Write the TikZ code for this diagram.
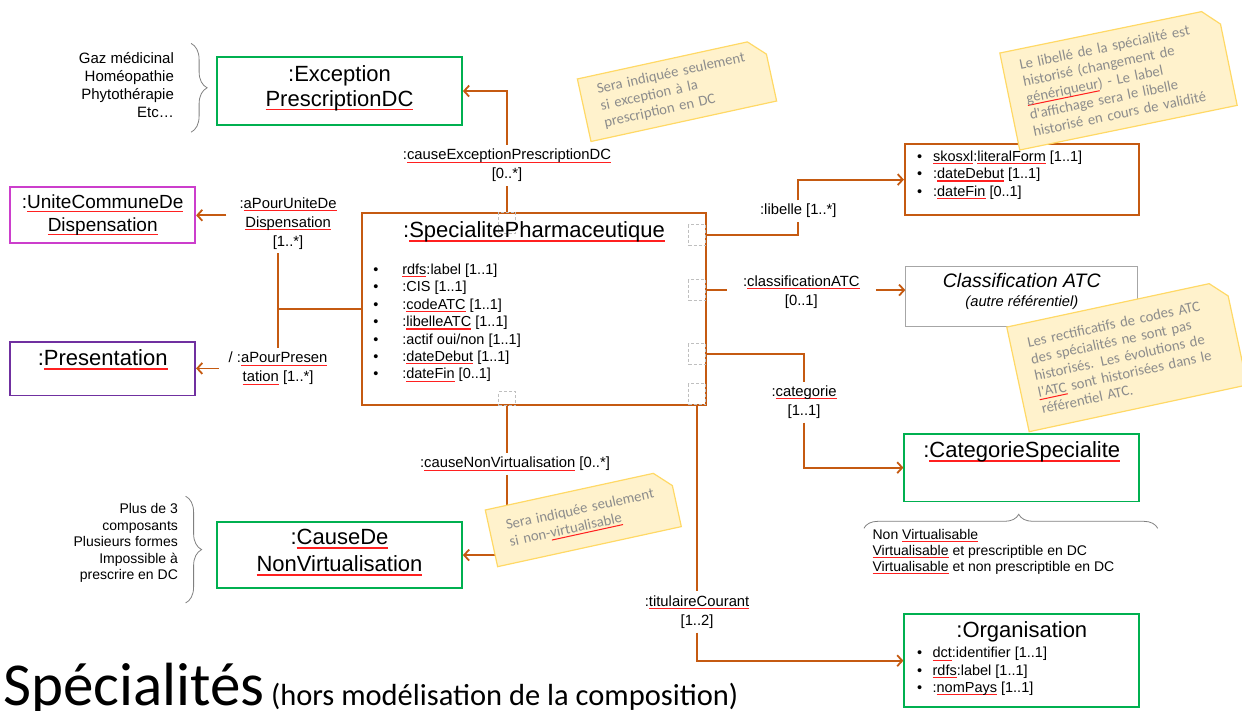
\documentclass[tikz,border=0pt]{standalone}
\usepackage{fontspec}
\setmainfont{Liberation Sans}
\newfontfamily\notefont{Carlito}
\usetikzlibrary{positioning,shapes.misc,decorations.pathreplacing,arrows.meta}

\definecolor{linkorange}{HTML}{C55A11}
\definecolor{classgreen}{HTML}{00B050}
\definecolor{unitemagenta}{HTML}{CC3ECC}
\definecolor{prespurple}{HTML}{7030A0}
\definecolor{classgray}{HTML}{A6A6A6}
\definecolor{portgray}{HTML}{BFBFBF}
\definecolor{bracegray}{HTML}{808080}
\definecolor{notefill}{HTML}{FFF2CC}
\definecolor{notedraw}{HTML}{FFD966}
\definecolor{notetext}{HTML}{8C8C8C}
\definecolor{squigred}{HTML}{FF2020}

% red underline as in the source slide
\newsavebox\sqbox
\newcommand\sq[1]{\leavevmode\sbox\sqbox{#1}\rlap{\textcolor{squigred}{\rule[-0.2em]{\wd\sqbox}{0.07em}}}\usebox\sqbox}
\newcommand\bul[1]{\makebox[#1][l]{\textbullet}}

\tikzstyle{classbox}=[rectangle, draw, line width=1.8pt, inner sep=0pt]
\tikzstyle{classname}=[inner sep=0pt, align=center, font=\fontsize{22}{26}\selectfont]
\tikzstyle{attrlist}=[inner sep=0pt, align=left, anchor=north west, font=\fontsize{14.5}{17.4}\selectfont]
\tikzstyle{linklabel}=[inner sep=4pt, align=center, font=\fontsize{14.8}{19}\selectfont]
\tikzstyle{link}=[draw=linkorange, line width=1.8pt]
\tikzstyle{linkto}=[link, -{Straight Barb[length=5pt,width=11pt]}]
\tikzstyle{port}=[rectangle, draw=portgray, densely dashed, line width=0.6pt,
        minimum width=17pt, minimum height=21pt, inner sep=0pt]
\tikzstyle{note}=[chamfered rectangle, chamfered rectangle corners=north east,
        chamfered rectangle xsep=8pt, chamfered rectangle ysep=8pt,
        fill=notefill, draw=notedraw, line width=1.2pt, text=notetext,
        align=left, inner sep=0pt, inner xsep=9pt,
        font=\notefont\fontsize{14.7}{17}\selectfont]
\tikzstyle{cases}=[inner sep=0pt, align=right]
\tikzstyle{gbrace}=[draw=bracegray, line width=0.8pt, decorate]

\begin{document}
\begin{tikzpicture}[x=1pt, y=-1pt]
    \useasboundingbox (0,0) rectangle (1242,710);

    % classes
    \node (Specialite) [classbox, draw=linkorange, minimum width=344pt, minimum height=192pt] at (534,309) {};
    \node (Unite) [classbox, draw=unitemagenta, minimum width=185pt, minimum height=56pt,
        left=165pt of Specialite.north west, yshift=-3pt] {};
    \node (Presentation) [classbox, draw=prespurple, minimum width=185pt, minimum height=53.5pt,
        below=97pt of Unite] {};
    \node (Exception) [classbox, draw=classgreen, minimum width=245pt, minimum height=68.5pt,
        above right=60pt and 20pt of Unite.north east] {};
    \node (CauseDe) [classbox, draw=classgreen, minimum width=245pt, minimum height=66pt,
        below=395pt of Exception] {};
    \node (Libelle) [classbox, draw=linkorange, minimum width=234pt, minimum height=71pt,
        right=197pt of Specialite.north east, yshift=32.5pt] {};
    \node (Classif) [classbox, draw=classgray, line width=1pt, minimum width=232pt, minimum height=60pt,
        below=50pt of Libelle] {};
    \node (Categorie) [classbox, draw=classgreen, minimum width=235pt, minimum height=67.5pt,
        below=106pt of Classif] {};
    \node (Organisation) [classbox, draw=classgreen, minimum width=235pt, minimum height=93pt,
        below=111pt of Categorie] {};

    % ports
    \node (PortTop) [port, below=0pt of Specialite.north, xshift=-27pt] {};
    \node (PortBottom) [port, minimum height=14pt, above=0pt of Specialite.south, xshift=-27pt] {};
    \node (PortR1) [port, left=1pt of Specialite.north east, yshift=-23pt] {};
    \node (PortR2) [port, left=1pt of Specialite.north east, yshift=-78pt] {};
    \node (PortR3) [port, left=1pt of Specialite.north east, yshift=-142pt] {};
    \node (PortR4) [port, above left=1pt and 1pt of Specialite.south east] {};

    % class names
    \node (SpecialiteName) [classname, below=9pt of Specialite.north] {:\sq{SpecialitePharmaceutique}};
    \node (UniteName) [classname, font=\fontsize{19}{22.5}\selectfont, below=8.5pt of Unite.north]
        {:\sq{UniteCommuneDe}\\\sq{Dispensation}};
    \node (PresentationName) [classname, below=8pt of Presentation.north] {:\sq{Presentation}};
    \node (ExceptionName) [classname, font=\fontsize{22}{25}\selectfont, below=9pt of Exception.north]
        {:Exception\\\sq{PrescriptionDC}};
    \node (CauseDeName) [classname, font=\fontsize{22}{27}\selectfont, below=7.5pt of CauseDe.north]
        {:\sq{CauseDe}\\\sq{NonVirtualisation}};
    \node (CategorieName) [classname, below=8pt of Categorie.north] {:\sq{CategorieSpecialite}};
    \node (OrganisationName) [classname, below=8pt of Organisation.north] {:Organisation};
    \node (ClassifName) [inner sep=0pt, font=\itshape\fontsize{19.5}{22}\selectfont,
        below=7pt of Classif.north] {Classification ATC};
    \node (ClassifNote) [inner sep=0pt, font=\itshape\fontsize{14.7}{17}\selectfont,
        below=8pt of ClassifName] {(autre référentiel)};

    % attributes
    \node (SpecialiteAttrs) [attrlist, below right=51.6pt and 12pt of Specialite.north west]
    {
        \bul{29pt}\sq{rdfs}:label [1..1]\\
        \bul{29pt}:CIS [1..1]\\
        \bul{29pt}:\sq{codeATC} [1..1]\\
        \bul{29pt}:\sq{libelleATC} [1..1]\\
        \bul{29pt}:actif oui/non [1..1]\\
        \bul{29pt}:\sq{dateDebut} [1..1]\\
        \bul{29pt}:\sq{dateFin} [0..1]
    };
    \node (LibelleAttrs) [attrlist, below right=7.3pt and 13pt of Libelle.north west]
    {
        \bul{16pt}\sq{skosxl}:\sq{literalForm} [1..1]\\
        \bul{16pt}:\sq{dateDebut} [1..1]\\
        \bul{16pt}:\sq{dateFin} [0..1]
    };
    \node (OrganisationAttrs) [attrlist, below right=33.6pt and 13.5pt of Organisation.north west]
    {
        \bul{15.5pt}\sq{dct}:identifier [1..1]\\
        \bul{15.5pt}\sq{rdfs}:label [1..1]\\
        \bul{15.5pt}:\sq{nomPays} [1..1]
    };

    % value lists
    \node (ExceptionCases) [cases, anchor=east, font=\fontsize{15}{18}\selectfont]
        at ([xshift=-42pt, yshift=6pt]Exception.west)
        {Gaz médicinal\\Homéopathie\\Phytothérapie\\Etc…};
    \node (CauseDeCases) [cases, anchor=east, font=\fontsize{14}{16.5}\selectfont]
        at ([xshift=-38pt, yshift=12pt]CauseDe.west)
        {Plus de 3\\composants\\Plusieurs formes\\Impossible à\\prescrire en DC};
    \node (CategorieCases) [cases, align=left, anchor=north west, font=\fontsize{14}{16}\selectfont]
        at ([shift={(-31,27)}]Categorie.south west)
        {Non \sq{Virtualisable}\\\sq{Virtualisable} et prescriptible en DC\\\sq{Virtualisable} et non prescriptible en DC};

    \draw[gbrace, decoration={brace, amplitude=16pt}]
        ([shift={(-25,-12.5)}]Exception.north west) -- ([shift={(-25,6)}]Exception.south west);
    \draw[gbrace, decoration={brace, amplitude=16pt}]
        ([shift={(-30.5,-25)}]CauseDe.north west) -- ([shift={(-30.5,14)}]CauseDe.south west);
    \draw[gbrace, decoration={brace, amplitude=14pt, aspect=0.527}]
        ([shift={(-39.5,26)}]Categorie.south west) -- ([shift={(17.5,26)}]Categorie.south east);

    % link labels
    \coordinate (Fork) at ([xshift=-83pt]Specialite.west);
    \node (ExcLbl) [linklabel, above=26pt of PortTop] {:\sq{causeExceptionPrescriptionDC}\\{}[0..*]};
    \node (UniteLbl) [linklabel, above=55.6pt of Fork.center, xshift=10pt]
        {:\sq{aPourUniteDe}\\\sq{Dispensation}\\{}[1..*]};
    \node (PresLbl) [linklabel, below=38.8pt of Fork.center] {/ :\sq{aPourPresen}\\\sq{tation} [1..*]};
    \node (LibLbl) [linklabel, right=50pt of PortR1.east, yshift=24pt] {:libelle [1..*]};
    \node (ClsLbl) [linklabel, inner xsep=16pt, right=21pt of PortR2.east, yshift=-2pt]
        {:\sq{classificationATC}\\{}[0..1]};
    \node (CatLbl) [linklabel, right=61.5pt of PortR3.east, yshift=-48pt] {:\sq{categorie}\\{}[1..1]};
    \node (TitLbl) [linklabel, below=186.5pt of PortR4] {:\sq{titulaireCourant}\\{}[1..2]};
    \node (NvLbl) [linklabel, below=46.8pt of PortBottom, xshift=8pt] {:\sq{causeNonVirtualisation} [0..*]};

    % links
    \draw[link] (PortTop.north) -- (ExcLbl.south);
    \draw[linkto] (ExcLbl.north) |- (Exception.east);
    \draw[link] (Specialite.west) -- (Fork);
    \draw[link] (UniteLbl.south -| Fork) -- (PresLbl.north -| Fork);
    \coordinate (UniteTail) at ([shift={(-9,-8)}]UniteLbl.west);
    \coordinate (PresTail) at ([xshift=-6pt]PresLbl.west);
    \draw[linkto] (UniteTail) -- (UniteTail -| Unite.east);
    \draw[linkto] (PresTail) -- (PresTail -| Presentation.east);
    \draw[link] (PortR1.east) -| (LibLbl.south);
    \draw[linkto] (LibLbl.north) |- (Libelle.west);
    \draw[link] (PortR2.east) -- (PortR2.east -| ClsLbl.west);
    \draw[linkto] (PortR2.east -| ClsLbl.east) -- (PortR2.east -| Classif.west);
    \draw[link] (PortR3.east) -| (CatLbl.north);
    \draw[linkto] (CatLbl.south) |- (Categorie.west);
    \draw[link] (PortR4.south) -- (TitLbl.north);
    \draw[linkto] (TitLbl.south) |- (Organisation.west);
    \draw[link] (PortBottom.south) -- (PortBottom.south |- NvLbl.north);
    \draw[linkto] (PortBottom.south |- NvLbl.south) |- (CauseDe.east);

    % notes
    \node (NoteException) [note, rotate=12.3, minimum width=174pt, minimum height=64pt, text width=156pt]
        at (677,90) {Sera indiquée seulement\\si exception à la\\prescription en DC};
    \node (NoteLibelle) [note, rotate=11.6, minimum width=206pt, minimum height=99pt, text width=188pt]
        at (1118.5,79.2) {Le libellé de la spécialité est\\historisé (changement de\\\sq{génériqueur}) - Le label\\d'affichage sera le libelle\\historisé en cours de validité};
    \node (NoteATC) [note, rotate=12.1, minimum width=206pt, minimum height=107pt, text width=189pt]
        at (1127,356) {Les rectificatifs de codes ATC\\des spécialités ne sont pas\\historisés. Les évolutions de\\\sq{l'ATC} sont historisées dans le\\référentiel ATC.};
    \node (NoteNonVirt) [note, rotate=12.3, minimum width=172pt, minimum height=58pt, text width=154pt]
        at (583.3,518.3) {Sera indiquée seulement\\si non-\sq{virtualisable}};

    % title
    \node (Title) [anchor=base west, inner sep=0pt, font=\notefont\fontsize{61}{61}\selectfont]
        at (3,705) {Spécialités};
    \node (Subtitle) [anchor=base west, inner sep=0pt, font=\notefont\fontsize{30.5}{30.5}\selectfont]
        at ([xshift=6pt]Title.base east) {(hors modélisation de la composition)};

\end{tikzpicture}
\end{document}
